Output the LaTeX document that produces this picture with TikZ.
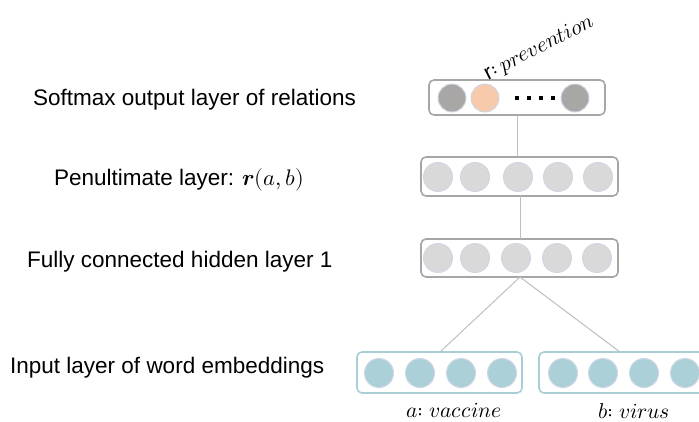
\documentclass[tikz,border=0pt]{standalone}
\usepackage{fontspec}
\setmainfont{Liberation Sans}
\usepackage{unicode-math}
\setmathfont{Latin Modern Math}
\definecolor{boxgray}{HTML}{A6A6A6}
\definecolor{boxteal}{HTML}{A9CED6}
\definecolor{cdark}{HTML}{A9A6A6}
\definecolor{corange}{HTML}{F7CAAB}
\definecolor{clight}{HTML}{D9D9D9}
\definecolor{cteal}{HTML}{ABD0D7}
\definecolor{cedge}{HTML}{D0D6E4}
\definecolor{linegray}{HTML}{BFBFBF}
\begin{document}
\begin{tikzpicture}[x=1pt,y=-1pt,
  layerbox/.style={draw=boxgray,line width=1.6pt,rounded corners=5pt},
  inbox/.style={draw=boxteal,line width=1.6pt,rounded corners=5pt},
  neuron/.style={circle,draw=cedge,line width=1pt,minimum size=29pt,inner sep=0pt},
  conn/.style={draw=linegray,line width=1pt},
  lbl/.style={font=\fontsize{22.5}{26}\selectfont,anchor=west,inner sep=0pt},
  mlbl/.style={font=\fontsize{21.5}{25}\selectfont,inner sep=0pt}]
\useasboundingbox (0,0) rectangle (699,421);
% boxes
\draw[layerbox] (429,80) rectangle (605,115);
\coordinate (outB) at (517,115);
\draw[layerbox] (421,157) rectangle (618,196);
\coordinate (penT) at (517,157);
\coordinate (penB) at (520,196);
\draw[layerbox] (421,239) rectangle (618,277);
\coordinate (hidT) at (520,239);
\coordinate (hidB) at (520,277);
\draw[inbox] (357,352) rectangle (522,393);
\coordinate (inaT) at (440,352);
\draw[inbox] (539,352) rectangle (715,393);
\coordinate (inbT) at (620,352);
% connectors
\draw[conn] (outB) -- (penT);
\draw[conn] (penB) -- (hidT);
\draw[conn] (hidB) -- (inaT);
\draw[conn] (hidB) -- (inbT);
% output neurons
\node[neuron,fill=cdark,minimum size=28pt] (o1) at (452,98) {};
\node[neuron,fill=corange,minimum size=28pt] (o2) at (485,98) {};
\node[neuron,fill=cdark,minimum size=28pt] (o3) at (575,98) {};
\foreach \x in {517,529,541,553} \fill (\x-2.2,98-2.2) rectangle (\x+2.2,98+2.2);
% penultimate
\foreach \x/\n in {438/1,475/2,518/3,558/4,598/5}
  \node[neuron,fill=clight] (p\n) at (\x,177) {};
% hidden
\foreach \x/\n in {438/1,475/2,516/3,557/4,597/5}
  \node[neuron,fill=clight] (h\n) at (\x,258) {};
% inputs
\foreach \x/\n in {379/1,420/2,461/3,502/4}
  \node[neuron,fill=cteal] (a\n) at (\x,373) {};
\foreach \x/\n in {563/1,603/2,644/3,685/4}
  \node[neuron,fill=cteal] (b\n) at (\x,373) {};
% labels
\node[lbl] (t1) at (33,100) {Softmax output layer of relations};
\node[lbl] (t2) at (54,180) {Penultimate layer: $\symbfit{r}(a,b)$};
\node[lbl] (t3) at (27,262) {Fully connected hidden layer 1};
\node[lbl] (t4) at (10,368) {Input layer of word embeddings};
\node[mlbl,anchor=south west,rotate=27] (rl) at (490,84) {$\mathrm{r}{:}\,prevention$};
\node[mlbl] (la) at (454,411) {$a{:}\;vaccine$};
\node[mlbl] (lb) at (634,411) {$b{:}\;virus$};
\end{tikzpicture}
\end{document}
